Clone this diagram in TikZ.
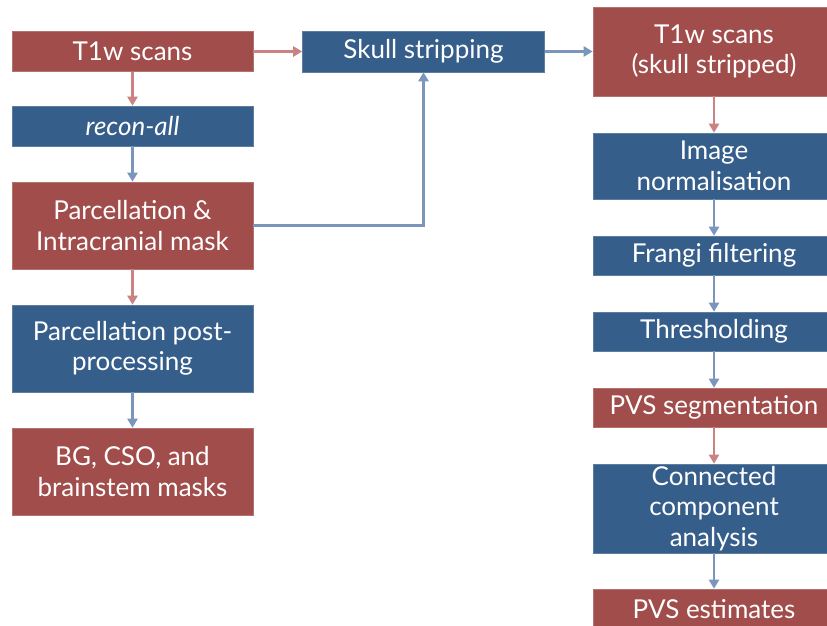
\documentclass[tikz,border=0pt]{standalone}
\usepackage{fontspec}
\setmainfont{Lato}
\usepackage{xcolor}
\usetikzlibrary{arrows.meta,positioning}
\definecolor{boxred}{RGB}{160,77,75}
\definecolor{boxblue}{RGB}{54,94,138}
\definecolor{linered}{RGB}{201,131,130}
\definecolor{lineblue}{RGB}{122,150,189}
\tikzset{
	box/.style={rectangle, inner sep=0pt, text=white, align=center, line width=0.6pt,
		font=\fontsize{26}{30.5}\selectfont},
	redbox/.style={box, fill=boxred, draw=boxred!80!white},
	bluebox/.style={box, fill=boxblue, draw=boxblue!80!white},
	redarrow/.style={draw=linered, line width=2.5pt, -{Triangle[length=9pt,width=10pt]}},
	bluearrow/.style={draw=lineblue, line width=2.5pt, -{Triangle[length=9pt,width=10pt]}},
}

\begin{document}
\begin{tikzpicture}[x=1pt,y=-1pt]
	\clip (0,0) rectangle (827,626);
	%
	% left column
	\node[redbox, minimum width=241pt, minimum height=40pt] (t1w) at (132.5,51.5) {T1w scans};
	\node[bluebox, minimum width=241pt, minimum height=40pt] (recon) at (132.5,126) {\itshape recon-all};
	\node[redbox, minimum width=241pt, minimum height=87pt] (parc) at (132.5,225.5) {Parcellation \&\\Intracranial mask};
	\node[bluebox, minimum width=241pt, minimum height=87pt] (post) at (132.5,348.5) {Parcellation post-\\processing};
	\node[redbox, minimum width=241pt, minimum height=87pt] (masks) at (132.5,471.5) {BG, CSO, and\\brainstem masks};
	
	% skull stripping
	\node[bluebox, minimum width=242pt, minimum height=41pt] (skull) at (423.5,51.5) {Skull stripping};
	
	% right column
	\node[redbox, minimum width=242pt, minimum height=89pt] (stripped) at (714,51.5) {T1w scans\\(skull stripped)};
	\node[bluebox, minimum width=242pt, minimum height=66pt] (norm) at (714,166) {Image\\normalisation};
	\node[bluebox, minimum width=242pt, minimum height=39pt] (frangi) at (714,255.5) {Frangi filtering};
	\node[bluebox, minimum width=242pt, minimum height=39pt] (thresh) at (714,331.5) {Thresholding};
	\node[redbox, minimum width=242pt, minimum height=39pt] (seg) at (714,407.5) {PVS segmentation};
	\node[bluebox, minimum width=242pt, minimum height=89pt] (cca) at (714,508.5) {Connected\\component\\analysis};
	\node[redbox, minimum width=242pt, minimum height=40pt] (est) at (714,609) {PVS estimates};
	%
	\draw[redarrow] (t1w) -- (recon);
	\draw[bluearrow] (recon) -- (parc);
	\draw[redarrow] (parc) -- (post);
	\draw[bluearrow] (post) -- (masks);
	\draw[redarrow] (t1w) -- (skull);
	\draw[bluearrow] (parc.east) -| (skull.south);
	\draw[bluearrow] (skull) -- (stripped);
	%
	\draw[redarrow] (stripped) -- (norm);
	\draw[bluearrow] (norm) -- (frangi);
	\draw[bluearrow] (frangi) -- (thresh);
	\draw[bluearrow] (thresh) -- (seg);
	\draw[redarrow] (seg) -- (cca);
	\draw[bluearrow] (cca) -- (est);
\end{tikzpicture}
\end{document}
